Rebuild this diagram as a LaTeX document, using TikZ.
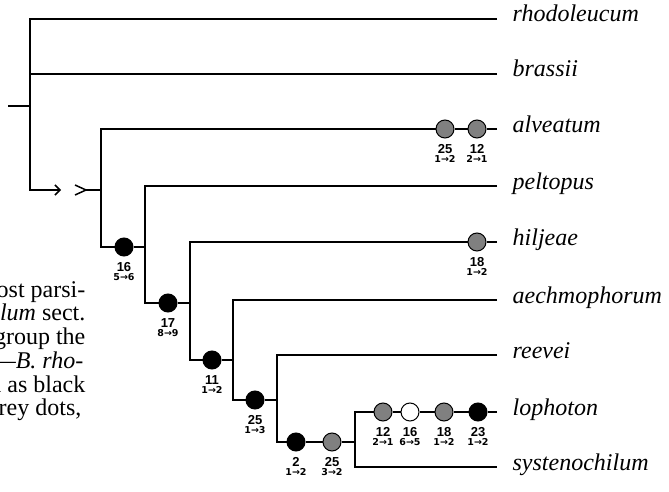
\documentclass[tikz,border=0pt]{standalone}
\usepackage{fontspec}
\setmainfont{Liberation Serif}
\newfontfamily\charfont{Liberation Sans}
\newfontfamily\statefont{DejaVu Sans}
\usetikzlibrary{arrows.meta, calc}

\begin{document}
\begin{tikzpicture}[
    x=1pt, y=-1pt,
    line width=1.3pt,
    mut/.style={circle, draw, line width=1pt, minimum size=18pt, inner sep=0pt},
    blackdot/.style={mut, fill=black},
    greydot/.style={mut, fill=black!50},
    whitedot/.style={mut, fill=white},
    charnum/.style={font=\charfont\bfseries\fontsize{13}{13}\selectfont, inner sep=0pt, label distance=5pt},
    charstate/.style={font=\statefont\bfseries\fontsize{9.5}{9.5}\selectfont, inner sep=0pt, label distance=16.5pt},
    taxon/.style={anchor=base west, inner sep=0pt, xshift=15pt, yshift=-3pt, font=\fontsize{24}{28}\selectfont\itshape},
    bodytext/.style={anchor=base east, inner sep=0pt, font=\fontsize{24}{28}\selectfont}
]
    \useasboundingbox (0,0) rectangle (669,492);
    \clip (0,0) rectangle (669,492);

    % Tips of the terminal branches
    \coordinate (t-rhodoleucum) at (497,19);
    \coordinate (t-brassii) at (497,74);
    \coordinate (t-alveatum) at (497,129);
    \coordinate (t-peltopus) at (497,186);
    \coordinate (t-hiljeae) at (497,242);
    \coordinate (t-aechmophorum) at (497,300);
    \coordinate (t-reevei) at (497,355);
    \coordinate (t-lophoton) at (497,412);
    \coordinate (t-systenochilum) at (497,467);

    \node[taxon] (rhodoleucum) at (t-rhodoleucum) {rhodoleucum};
    \node[taxon] (brassii) at (t-brassii) {brassii};
    \node[taxon] (alveatum) at (t-alveatum) {alveatum};
    \node[taxon] (peltopus) at (t-peltopus) {peltopus};
    \node[taxon] (hiljeae) at (t-hiljeae) {hiljeae};
    \node[taxon] (aechmophorum) at (t-aechmophorum) {aechmophorum};
    \node[taxon] (reevei) at (t-reevei) {reevei};
    \node[taxon] (lophoton) at (t-lophoton) {lophoton};
    \node[taxon] (systenochilum) at (t-systenochilum) {systenochilum};

    % Corners of the cladogram
    \coordinate (root) at (8,106);
    \coordinate (brk0) at (30,190);
    \coordinate (brkA) at (61,190);
    \coordinate (brkB) at (86,190);
    \coordinate (v1) at (101,247);
    \coordinate (v2) at (145,303);
    \coordinate (v3) at (190,360);
    \coordinate (v4) at (233,400);
    \coordinate (v5) at (277,442);
    \coordinate (v6) at (355,467);

    % Character changes on the internal branches
    \node[blackdot, label={[charnum]below:16}, label={[charstate]below:5→6}] (d16) at (124,247) {};
    \node[blackdot, label={[charnum]below:17}, label={[charstate]below:8→9}] (d17) at (168,303) {};
    \node[blackdot, label={[charnum]below:11}, label={[charstate]below:1→2}] (d11) at (212,360) {};
    \node[blackdot, label={[charnum]below:25}, label={[charstate]below:1→3}] (d25) at (255,400) {};
    \node[blackdot, label={[charnum]below:2}, label={[charstate]below:1→2}] (d2) at (296,442) {};
    \node[greydot, label={[charnum]below:25}, label={[charstate]below:3→2}] (d25b) at (332,442) {};

    % Character changes on the terminal branches
    \node[greydot, label={[charnum]below:25}, label={[charstate]below:1→2}] (al25) at (445,129) {};
    \node[greydot, label={[charnum]below:12}, label={[charstate]below:2→1}] (al12) at (477,129) {};
    \node[greydot, label={[charnum]below:18}, label={[charstate]below:1→2}] (hi18) at (477,242) {};
    \node[greydot, label={[charnum]below:12}, label={[charstate]below:2→1}] (lo12) at (383,412) {};
    \node[whitedot, label={[charnum]below:16}, label={[charstate]below:6→5}] (lo16) at (410,412) {};
    \node[greydot, label={[charnum]below:18}, label={[charstate]below:1→2}] (lo18) at (444,412) {};
    \node[blackdot, label={[charnum]below:23}, label={[charstate]below:1→2}] (lo23) at (478,412) {};

    % Branches
    \draw (root) -- (root -| brk0);
    \draw[-{Straight Barb[length=5pt, width=10pt, line width=1.5pt]}] (t-rhodoleucum) -| (brk0) -- (brkA);
    \draw[line width=1.5pt, line join=miter] ($(brkB)+(-11,-5)$) -- (brkB) -- ($(brkB)+(-11,5)$);
    \draw (t-brassii) -- (t-brassii -| brk0);
    \draw (brkB) -- (brkB -| v1);
    \draw (t-alveatum) -- (al12) -- (al25) -| (v1) -- (d16);
    \draw (d16) -- (d16 -| v2);
    \draw (t-peltopus) -| (v2) -- (d17);
    \draw (d17) -- (d17 -| v3);
    \draw (t-hiljeae) -- (hi18) -| (v3) -- (d11);
    \draw (d11) -- (d11 -| v4);
    \draw (t-aechmophorum) -| (v4) -- (d25);
    \draw (d25) -- (d25 -| v5);
    \draw (t-reevei) -| (v5) -- (d2) -- (d25b) -- (d25b -| v6);
    \draw (t-lophoton) -- (lo23) -- (lo18) -- (lo16) -- (lo12) -| (v6) -- (t-systenochilum);

    % Caption text cut off at the left
    \node[bodytext] (line1) at (86,297) {ost parsi-};
    \node[bodytext] (line2) at (86,320) {\textit{llum} sect.};
    \node[bodytext] (line3) at (86,344) {group the};
    \node[bodytext] (line4) at (84,368) {—\textit{B. rho}-};
    \node[bodytext] (line5) at (86,392) {n as black};
    \node[bodytext] (line6) at (82,415) {grey dots,};
\end{tikzpicture}
\end{document}
